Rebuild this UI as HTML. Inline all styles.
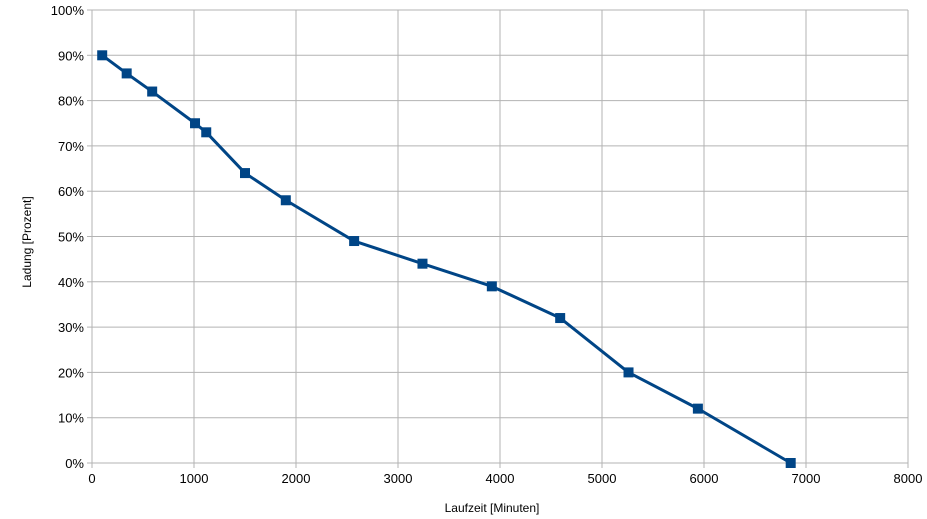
<!DOCTYPE html>
<html><head><meta charset="utf-8"><style>
body{margin:0;background:#fff;}
svg{display:block;font-family:"Liberation Sans",sans-serif;}
</style></head><body>
<svg id="chart" width="927" height="519" xmlns="http://www.w3.org/2000/svg">
<g id="grid"></g>
<g id="axes"></g>
<g id="series"></g>
<text x="492" y="512" font-size="12" text-anchor="middle">Laufzeit [Minuten]</text>
<text transform="translate(31,242) rotate(-90)" font-size="12" text-anchor="middle">Ladung [Prozent]</text>
</svg>
<script>
const xValues=[100,340,590,1010,1120,1500,1900,2570,3240,3920,4590,5260,5940,6850];
const yValues=[90,86,82,75,73,64,58,49,44,39,32,20,12,0];
const xTicks=[0,1000,2000,3000,4000,5000,6000,7000,8000];
const yTicks=[0,10,20,30,40,50,60,70,80,90,100];
const L=92,R=908,T=10,B=463;
const sx=v=>L+(v-0)/8000*(R-L);
const sy=v=>B-(v/100)*(B-T);
const NS="http://www.w3.org/2000/svg";
function mk(t,a,p){const e=document.createElementNS(NS,t);for(const k in a)e.setAttribute(k,a[k]);p.appendChild(e);return e;}
const grid=document.getElementById('grid'),axes=document.getElementById('axes'),ser=document.getElementById('series');
yTicks.forEach(v=>{
 const l=mk('line',{x1:L,x2:R,y1:sy(v),y2:sy(v),stroke:'#b3b3b3','stroke-width':1},grid);
 
 
 const tk=mk('line',{x1:L-5,x2:L,y1:sy(v),y2:sy(v),stroke:'#b3b3b3'},axes);
 
 
 const t=mk('text',{x:L-8,y:sy(v)+5,'font-size':13,'text-anchor':'end'},axes);
 t.textContent=v+'%';
 
 
});
xTicks.forEach(v=>{
 const l=mk('line',{x1:sx(v),x2:sx(v),y1:T,y2:B+5,stroke:'#b3b3b3'},grid);
 
 
 const t=mk('text',{x:sx(v),y:B+20,'font-size':13,'text-anchor':'middle'},axes);
 t.textContent=v;
 
 
});
const pl=mk('polyline',{points:xValues.map((x,i)=>sx(x)+','+sy(yValues[i])).join(' '),fill:'none',stroke:'#004586','stroke-width':3,'stroke-linejoin':'round'},ser);


xValues.forEach((x,i)=>{
 const r=mk('rect',{x:sx(x)-5,y:sy(yValues[i])-5,width:10,height:10,fill:'#004586'},ser);
 
 
});
</script>
</body></html>
